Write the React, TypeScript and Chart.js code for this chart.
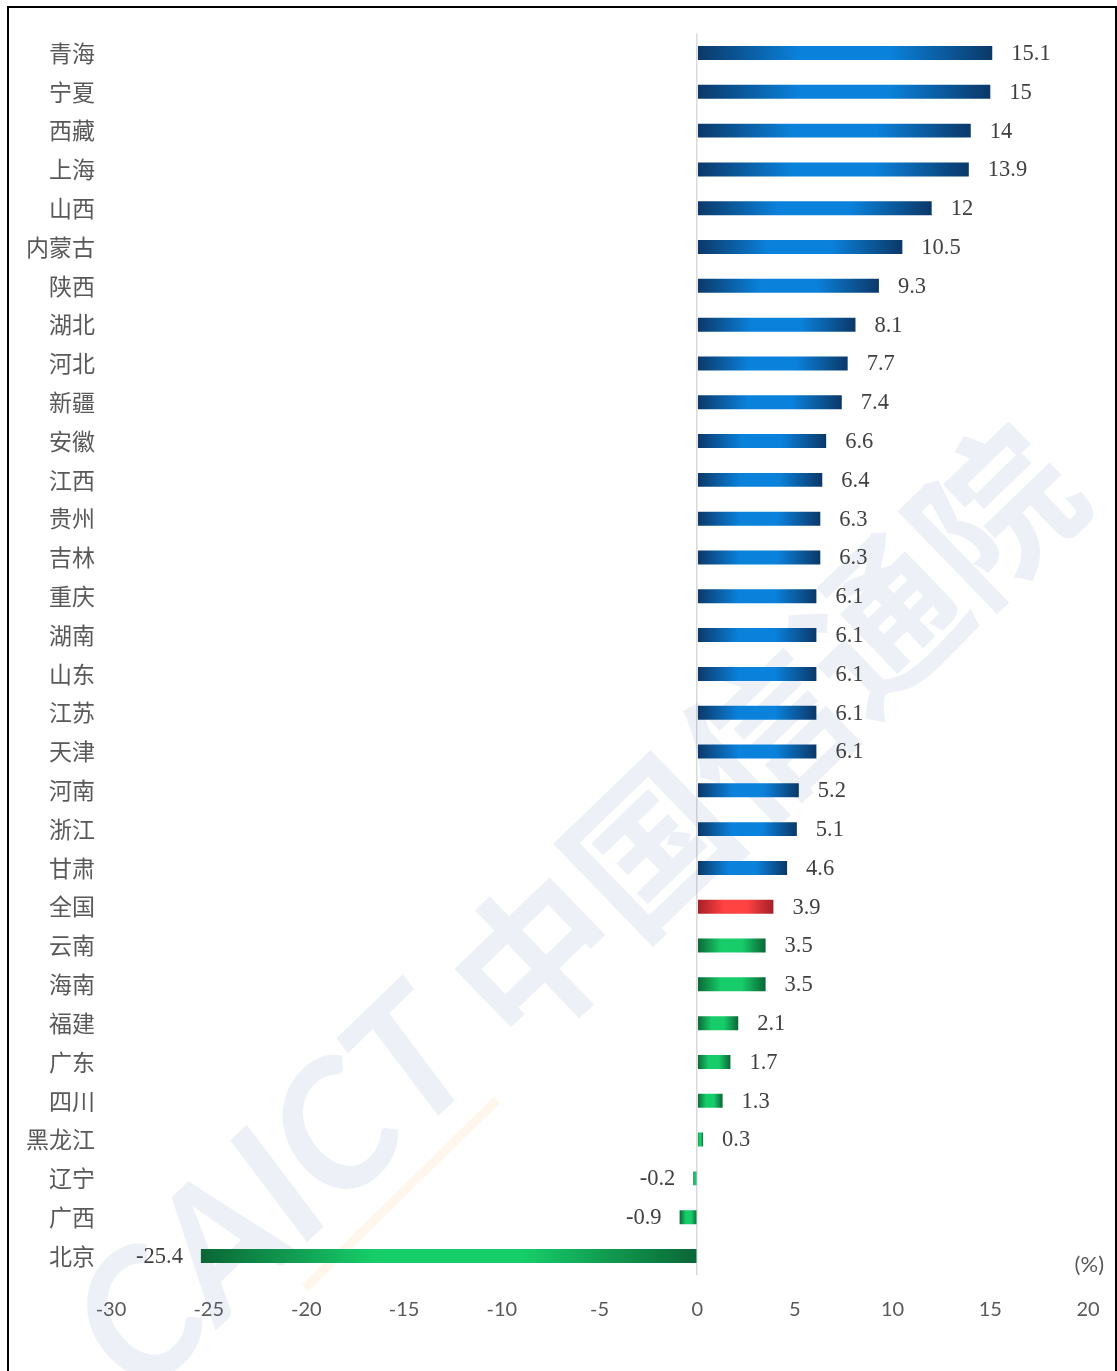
import React, { useEffect, useRef } from "react";
import { Chart, registerables } from "chart.js";

Chart.register(...registerables);

const categories = ["青海", "宁夏", "西藏", "上海", "山西", "内蒙古", "陕西", "湖北", "河北", "新疆", "安徽", "江西", "贵州", "吉林", "重庆", "湖南", "山东", "江苏", "天津", "河南", "浙江", "甘肃", "全国", "云南", "海南", "福建", "广东", "四川", "黑龙江", "辽宁", "广西", "北京"];
const values = [15.1, 15, 14, 13.9, 12, 10.5, 9.3, 8.1, 7.7, 7.4, 6.6, 6.4, 6.3, 6.3, 6.1, 6.1, 6.1, 6.1, 6.1, 5.2, 5.1, 4.6, 3.9, 3.5, 3.5, 2.1, 1.7, 1.3, 0.3, -0.2, -0.9, -25.4];
const groups = ["blue", "blue", "blue", "blue", "blue", "blue", "blue", "blue", "blue", "blue", "blue", "blue", "blue", "blue", "blue", "blue", "blue", "blue", "blue", "blue", "blue", "blue", "red", "green", "green", "green", "green", "green", "green", "green", "green", "green"];
const xMin = -30;
const xMax = 20;
const xStep = 5;
const unitLabel = "(%)";

const palette: Record<string, [string, string]> = {
  blue: ["#0b3868", "#0a82dc"],
  red: ["#a31f28", "#ff4242"],
  green: ["#0a6636", "#17cd6a"],
};

export default function App() {
  const canvasRef = useRef<HTMLCanvasElement | null>(null);

  useEffect(() => {
    const canvas = canvasRef.current;
    if (!canvas) return;

    const labelPlugin = {
      id: "valueLabels",
      beforeDatasetsDraw(chart: any) {
        const ctx = chart.ctx;
        ctx.save();
        ctx.globalAlpha = 0.09;
        ctx.fillStyle = "#3c5aa0";
        ctx.translate(765, 735);
        ctx.rotate((-44 * Math.PI) / 180);
        ctx.font = "bold 160px 'Noto Sans CJK SC', sans-serif";
        ctx.textAlign = "center";
        ctx.textBaseline = "middle";
        ctx.fillText("中国信通院", 0, 0);
        ctx.restore();
        ctx.save();
        ctx.globalAlpha = 0.09;
        ctx.fillStyle = "#3c5aa0";
        ctx.translate(275, 1195);
        ctx.rotate((-44 * Math.PI) / 180);
        ctx.font = "italic bold 175px Lato, sans-serif";
        ctx.textAlign = "center";
        ctx.textBaseline = "middle";
        ctx.fillText("CAICT", 0, 0);
        ctx.restore();
        ctx.save();
        ctx.globalAlpha = 0.15;
        ctx.strokeStyle = "#ffc080";
        ctx.lineWidth = 9;
        ctx.beginPath();
        ctx.moveTo(305, 1288);
        ctx.lineTo(497, 1100);
        ctx.stroke();
        ctx.restore();
      },
      afterDatasetsDraw(chart: any) {
        const ctx = chart.ctx;
        const meta = chart.getDatasetMeta(0);
        ctx.save();
        ctx.font = "22.5px 'Liberation Serif', 'Times New Roman', serif";
        ctx.fillStyle = "#404040";
        ctx.textBaseline = "middle";
        meta.data.forEach((bar: any, i: number) => {
          const v = values[i];
          const txt = String(v);
          if (v >= 0) {
            ctx.textAlign = "left";
            ctx.fillText(txt, bar.x + 19, bar.y + 1);
          } else {
            ctx.textAlign = "right";
            ctx.fillText(txt, bar.x - 18, bar.y + 1);
          }
        });
        ctx.font = "22px Lato, 'Liberation Sans', sans-serif";
        ctx.fillStyle = "#595959";
        ctx.textAlign = "right";
        ctx.fillText(unitLabel, 1104, chart.chartArea.bottom - 10);
        ctx.restore();
      },
    };

    const chart = new Chart(canvas, {
      type: "bar",
      data: {
        labels: categories,
        datasets: [
          {
            data: values,
            backgroundColor: (c: any) => {
              const ch = c.chart;
              const grp = groups[c.dataIndex] || "blue";
              const [dark, light] = palette[grp];
              if (c.type !== "data" || !ch.chartArea || !ch.scales.x) return light;
              const x0 = ch.scales.x.getPixelForValue(0);
              const x1 = ch.scales.x.getPixelForValue(values[c.dataIndex]);
              const a = Math.min(x0, x1);
              const b = Math.max(x0, x1);
              if (b - a < 1) return light;
              const g = ch.ctx.createLinearGradient(a, 0, b, 0);
              g.addColorStop(0, dark);
              g.addColorStop(0.35, light);
              g.addColorStop(0.65, light);
              g.addColorStop(1, dark);
              return g;
            },
            borderWidth: 0,
            barPercentage: 0.36,
            categoryPercentage: 1,
          },
        ],
      },
      options: {
        indexAxis: "y",
        animation: false,
        responsive: true,
        maintainAspectRatio: false,
        layout: { padding: { top: 33.6, right: 29, left: 0, bottom: 0 } },
        plugins: {
          legend: { display: false },
          tooltip: { enabled: false },
        },
        scales: {
          x: {
            min: xMin,
            max: xMax,
            afterFit: (s: any) => {
              s.height = 95.6;
              s.paddingLeft = 0;
              s.paddingRight = 0;
            },
            ticks: {
              stepSize: xStep,
              padding: 22,
              color: "#595959",
              font: { family: "Lato, 'Liberation Sans', sans-serif", size: 20 },
            },
            grid: {
              drawTicks: false,
              color: (c: any) => (c.tick && c.tick.value === 0 ? "#d9d9d9" : "rgba(0,0,0,0)"),
              lineWidth: 1.5,
            },
            border: { display: false },
          },
          y: {
            afterFit: (s: any) => {
              s.width = 111;
            },
            ticks: {
              padding: 16,
              color: "#595959",
              font: { family: "'Noto Sans CJK SC', sans-serif", size: 23 },
            },
            grid: { display: false, drawTicks: false },
            border: { display: false },
          },
        },
      },
      plugins: [labelPlugin],
    } as any);

    return () => chart.destroy();
  }, []);

  return (
    <>
      <div style={{ position: "absolute", left: 0, top: 0, width: 1117, height: 1371, background: "#fff" }}>
        <canvas ref={canvasRef} />
      </div>
      <div
        style={{
          position: "absolute",
          left: 7,
          top: 6,
          width: 1110,
          height: 1365,
          boxSizing: "border-box",
          borderTop: "2px solid #000",
          borderLeft: "2px solid #000",
          borderRight: "2px solid #000",
          pointerEvents: "none",
        }}
      />
    </>
  );
}
